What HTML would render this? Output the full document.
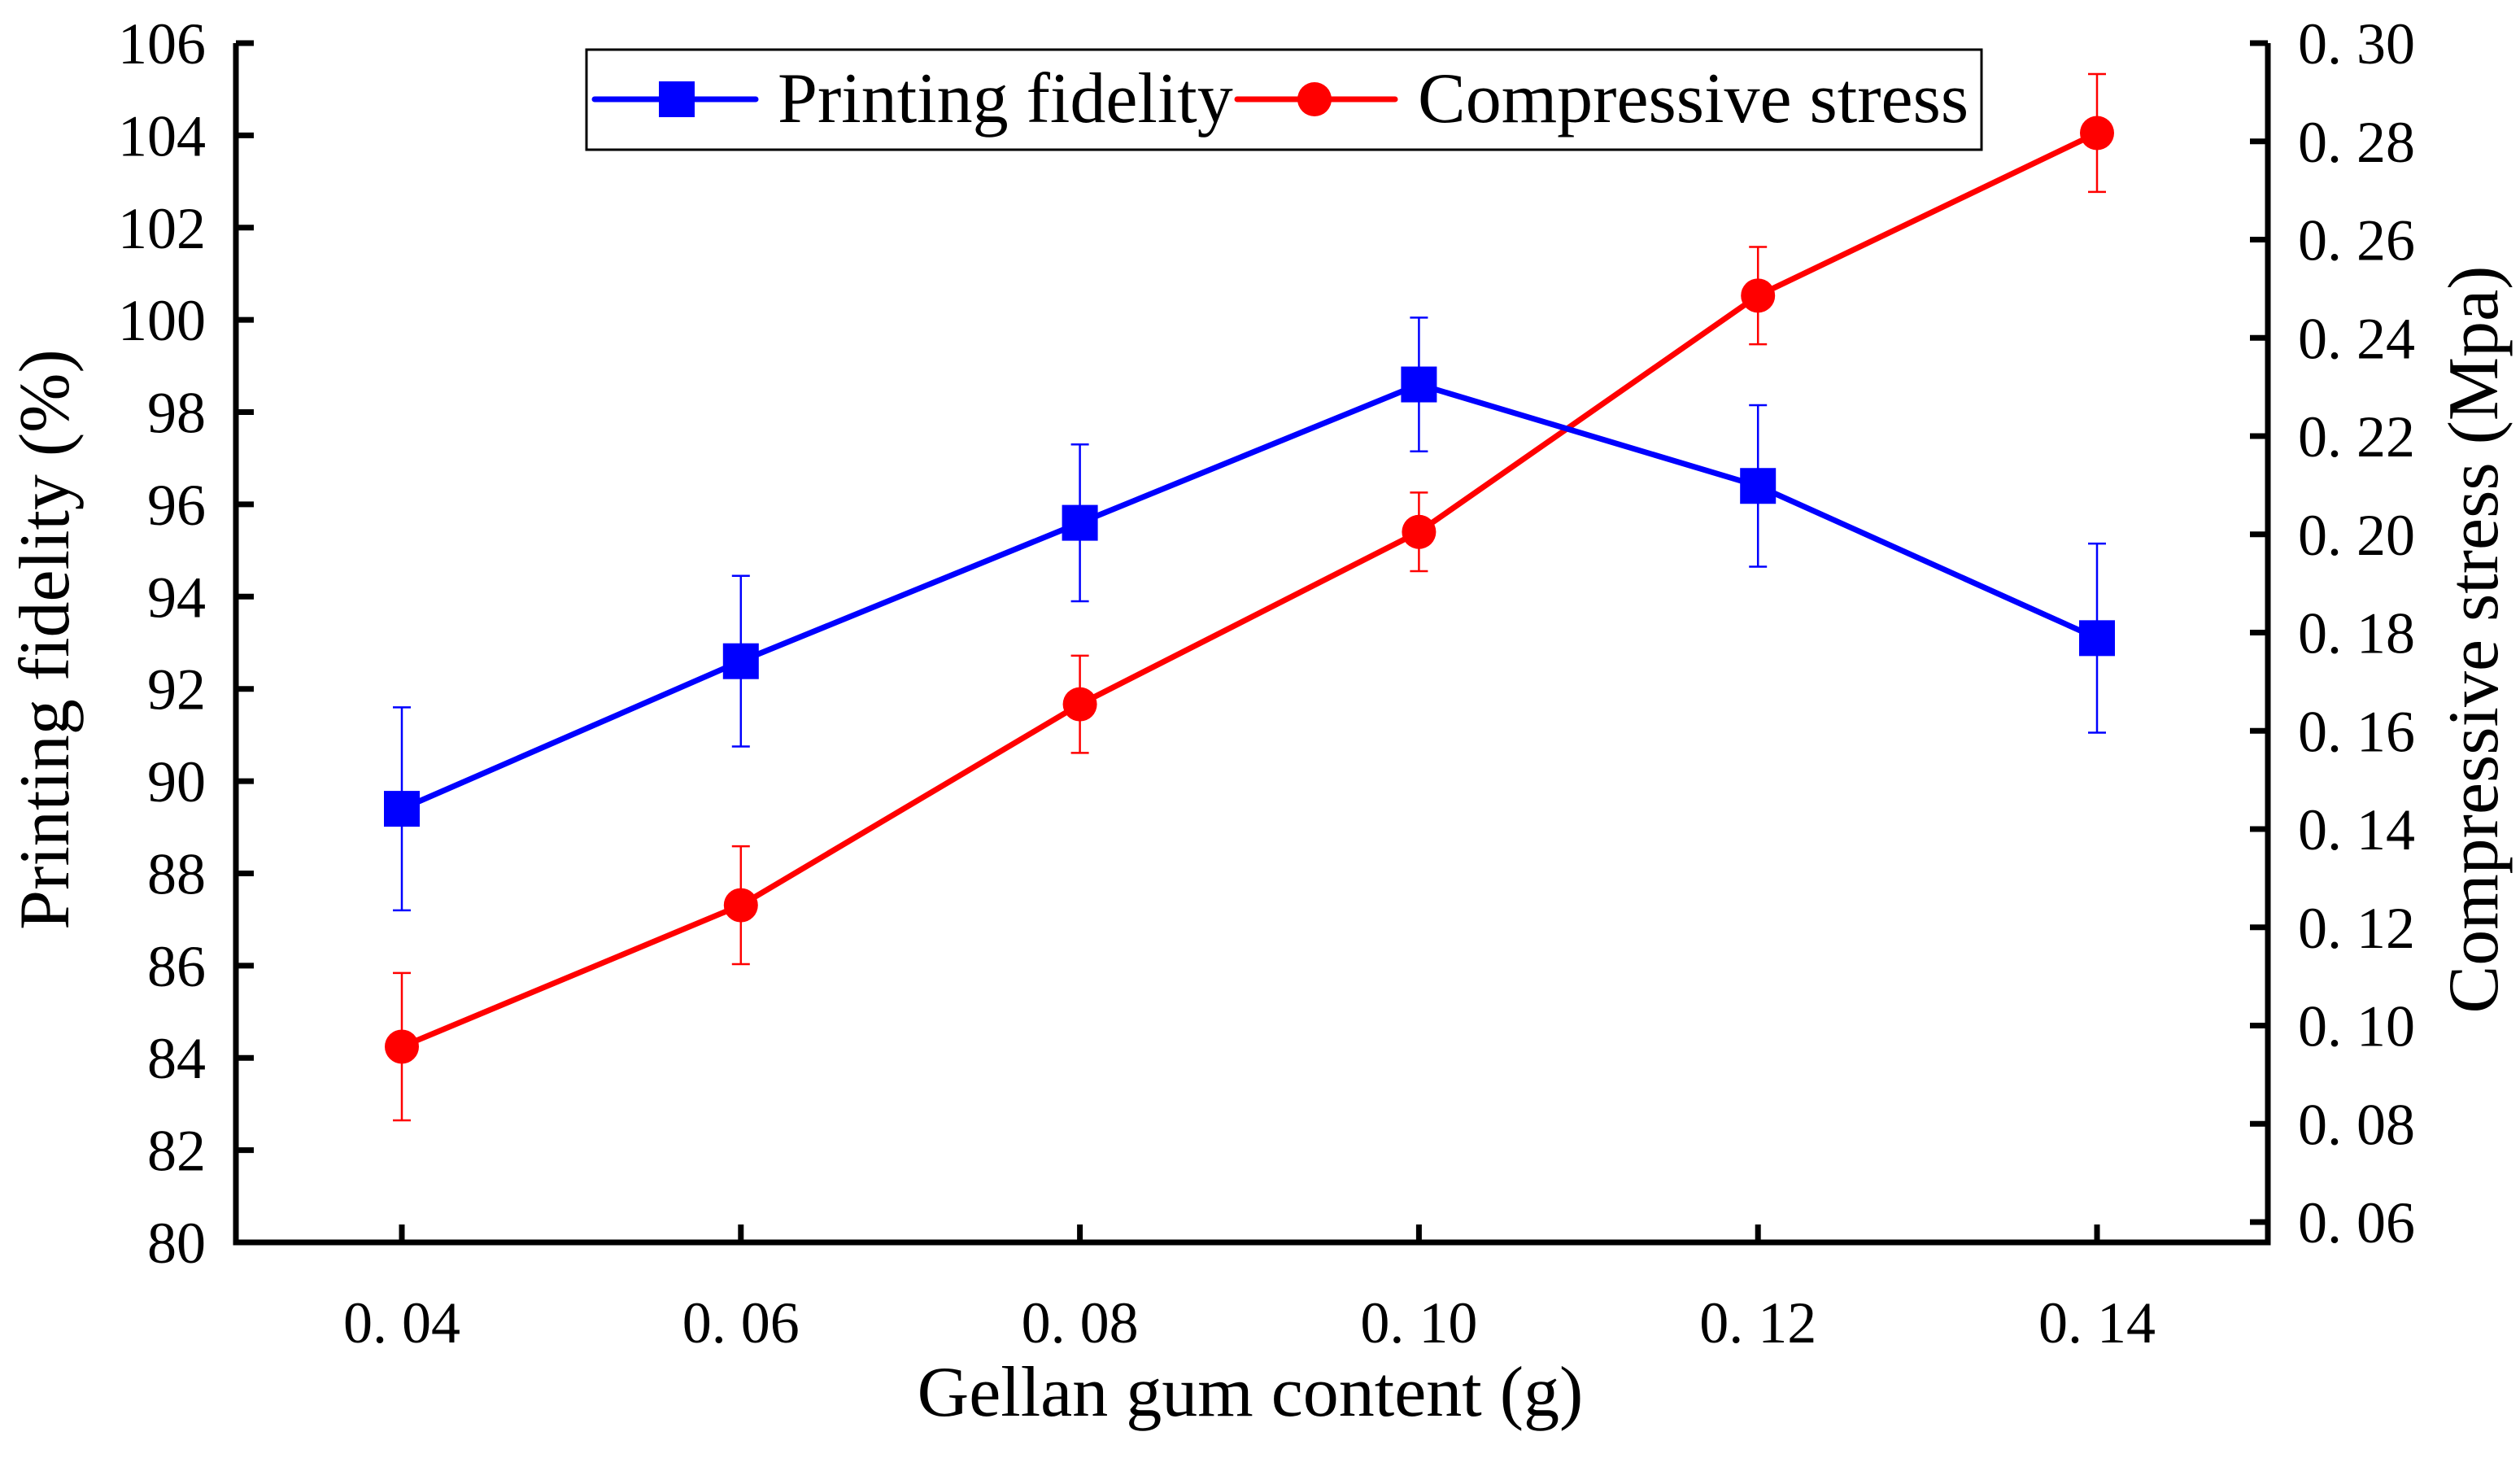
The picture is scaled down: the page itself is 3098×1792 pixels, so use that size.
<!DOCTYPE html>
<html><head><meta charset="utf-8"><style>
html,body{margin:0;padding:0;background:#fff}
svg text{font-family:"Liberation Serif","Noto Serif CJK SC",serif;fill:#000}
</style></head><body>
<svg id="chart" width="3098" height="1787" xmlns="http://www.w3.org/2000/svg">
<g id="axes"></g>
<g id="marks"></g>
<text x="1537" y="1740" font-size="88" text-anchor="middle">Gellan gum content (g)</text>
<text transform="translate(84,786) rotate(-90)" font-size="88" text-anchor="middle">Printing fidelity (%)</text>
<text transform="translate(3070,786) rotate(-90)" font-size="88" text-anchor="middle">Compressive stress (Mpa)</text>
<g>
<rect x="721" y="61" width="1715" height="123" fill="#fff" stroke="#000" stroke-width="3"/>
<line x1="731" y1="122" x2="929" y2="122" stroke="#0000ff" stroke-width="7" stroke-linecap="round"/>
<rect x="810" y="100" width="44" height="44" fill="#0000ff"/>
<text x="956" y="150" font-size="88">Printing fidelity</text>
<line x1="1521" y1="122" x2="1715" y2="122" stroke="#ff0000" stroke-width="7" stroke-linecap="round"/>
<circle cx="1616" cy="122" r="21" fill="#ff0000"/>
<text x="1743" y="150" font-size="88">Compressive stress</text>
</g>
</svg>
<script>
const categories=[0.04,0.06,0.08,0.10,0.12,0.14];
const xLabels=["0. 04","0. 06","0. 08","0. 10","0. 12","0. 14"];
const fidelity=[89.4,92.6,95.6,98.6,96.4,93.1];
const fidelityErr=[2.2,1.85,1.7,1.45,1.75,2.05];
const stress=[0.0957,0.1245,0.1654,0.2005,0.2486,0.2817];
const stressErr=[0.015,0.012,0.0099,0.008,0.0099,0.012];
const leftTicks=[80,82,84,86,88,90,92,94,96,98,100,102,104,106];
const rightTicks=[0.06,0.08,0.10,0.12,0.14,0.16,0.18,0.20,0.22,0.24,0.26,0.28,0.30];
const rightTickLabels=["0. 06","0. 08","0. 10","0. 12","0. 14","0. 16","0. 18","0. 20","0. 22","0. 24","0. 26","0. 28","0. 30"];

const L=290,R=2788,B=1527;
const xs=v=>494+(v-0.04)/0.10*(2578-494);
const yl=v=>1527-(v-80)/26*(1527-53);
const yr=v=>1502-(v-0.06)/0.24*(1502-53);
const NS="http://www.w3.org/2000/svg";
function mk(parent,tag,attrs){const e=document.createElementNS(NS,tag);for(const k in attrs)e.setAttribute(k,attrs[k]);parent.appendChild(e);return e;}
const axes=document.getElementById('axes'),marks=document.getElementById('marks');
let e;
e=mk(axes,'path',{d:`M${L},53 V${B} H${R} V53`,fill:'none',stroke:'#000','stroke-width':7});


leftTicks.forEach(t=>{
 e=mk(axes,'line',{x1:L,x2:L+22,y1:yl(t),y2:yl(t),stroke:'#000','stroke-width':7});
 
 
 e=mk(axes,'text',{x:253,y:yl(t)+25,'font-size':72,'text-anchor':'end'});e.textContent=t;
 
 
});
rightTicks.forEach((t,i)=>{
 e=mk(axes,'line',{x1:R-22,x2:R,y1:yr(t),y2:yr(t),stroke:'#000','stroke-width':7});
 
 
 e=mk(axes,'text',{x:2825,y:yr(t)+25,'font-size':72});e.textContent=rightTickLabels[i];
 
 
});
categories.forEach((c,i)=>{
 e=mk(axes,'line',{x1:xs(c),x2:xs(c),y1:B,y2:B-22,stroke:'#000','stroke-width':7});
 
 
 e=mk(axes,'text',{x:xs(c),y:1650,'font-size':72,'text-anchor':'middle'});e.textContent=xLabels[i];
 
 
});
function series(vals,errs,ys,color,name,shape){
 categories.forEach((c,i)=>{
  const x=xs(c),t=ys(vals[i]+errs[i]),b=ys(vals[i]-errs[i]);
  e=mk(marks,'path',{d:`M${x},${t}V${b}M${x-11},${t}H${x+11}M${x-11},${b}H${x+11}`,stroke:color,'stroke-width':2.5,fill:'none'});
  
  
 });
 e=mk(marks,'polyline',{points:categories.map((c,i)=>xs(c)+','+ys(vals[i])).join(' '),fill:'none',stroke:color,'stroke-width':7,'stroke-linejoin':'round'});
 
 
 categories.forEach((c,i)=>{
  if(shape==='sq') e=mk(marks,'rect',{x:xs(c)-22,y:ys(vals[i])-22,width:44,height:44,fill:color});
  else e=mk(marks,'circle',{cx:xs(c),cy:ys(vals[i]),r:21,fill:color});
  
  
 });
}
series(stress,stressErr,yr,'#ff0000','stress','ci');
series(fidelity,fidelityErr,yl,'#0000ff','fidelity','sq');
</script>
</body></html>
